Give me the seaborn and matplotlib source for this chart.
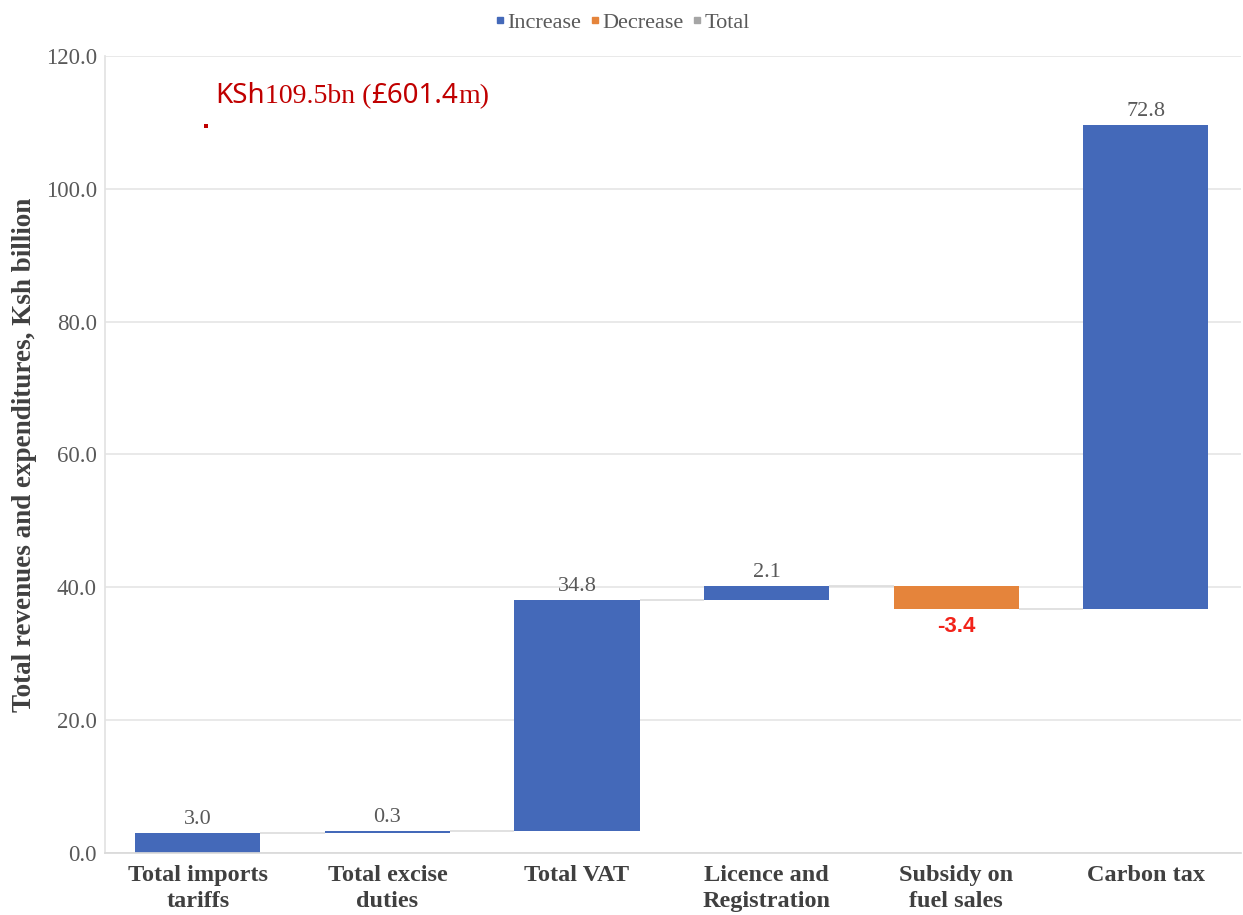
import numpy as np
import pandas as pd
import matplotlib
matplotlib.use("Agg")
import matplotlib.pyplot as plt
from matplotlib.lines import Line2D
from matplotlib.offsetbox import TextArea, HPacker, AnnotationBbox
import seaborn as sns

# Waterfall components (Ksh billion)
categories = ["Total imports\ntariffs", "Total excise\nduties", "Total VAT",
              "Licence and\nRegistration", "Subsidy on\nfuel sales", "Carbon tax"]
changes = [3.0, 0.3, 34.8, 2.1, -3.4, 72.8]
value_labels = ["3.0", "0.3", "34.8", "2.1", "-3.4", "72.8"]
total_value = 109.5
total_label_gbp = "601.4"
legend_names = ["Increase", "Decrease", "Total"]
yticks = [0, 20, 40, 60, 80, 100, 120]

BLUE = "#4469B9"
ORANGE = "#E5843B"
GREY = "#A5A5A5"
TEXT = "#595959"
SERIF = "Liberation Serif"

sns.set_theme(style="white")
plt.rcParams["font.family"] = [SERIF, "DejaVu Serif"]

ends = np.cumsum(changes)
starts = ends - np.array(changes)
df = pd.DataFrame({"category": categories, "size": np.abs(changes)})
colors = [BLUE if c >= 0 else ORANGE for c in changes]

fig = plt.figure(figsize=(12.43, 9.15), dpi=100)
ax = fig.add_axes([0.0845, 0.0678, 0.9135, 0.871])

width = 0.66
sns.barplot(data=df, x="category", y="size", hue="category", palette=colors,
            dodge=False, legend=False, width=width, saturation=1, ax=ax)

# Lift each bar so it floats from the running total
for i, patch in enumerate(ax.patches[:len(changes)]):
    patch.set_y(min(starts[i], ends[i]))
    patch.set_edgecolor("none")

# Connector lines between consecutive bars
for i in range(len(changes) - 1):
    ax.hlines(ends[i], i + width / 2, i + 1 - width / 2, color="#dcdcdc", lw=1.2, zorder=1)

# Value labels
for i, (c, lab) in enumerate(zip(changes, value_labels)):
    if c >= 0:
        ax.text(i, ends[i] + 0.6, lab, ha="center", va="bottom", fontsize=16,
                color=TEXT, family=SERIF)
    else:
        ax.text(i, ends[i] - 1.1, lab, ha="center", va="top", fontsize=16,
                color="#F2231A", fontweight="bold", family=["Liberation Sans Narrow", "Liberation Sans"])

# Total marker and annotation
RED = "#C00000"
ax.scatter([0.04], [total_value], marker="s", s=12, color=RED, linewidths=0, zorder=5)
parts = [
    ("KSh", ["Noto Sans", "DejaVu Sans"]),
    ("%.1fbn (" % total_value, [SERIF]),
    ("£" + total_label_gbp, ["Noto Sans", "DejaVu Sans"]),
    ("m)", [SERIF]),
]
boxes = [TextArea(t, textprops=dict(color=RED, fontsize=20, family=f)) for t, f in parts]
pack = HPacker(children=boxes, align="baseline", pad=0, sep=0)
ab = AnnotationBbox(pack, (0.04, total_value), xybox=(7, 11), xycoords="data",
                    boxcoords="offset points", box_alignment=(0, 0), frameon=False)
ax.add_artist(ab)

# Axes styling
ax.set_ylim(0, 120)
ax.set_xlim(-0.49, 5.5)
ax.set_yticks(yticks)
ax.set_yticklabels(["%.1f" % v for v in yticks], fontsize=16.5, color=TEXT)
ax.set_xticks(range(len(categories)))
ax.set_xticklabels(categories, fontsize=17.5, fontweight="bold", color="#404040",
                   linespacing=1.3)
ax.tick_params(axis="y", length=0, pad=6)
ax.tick_params(axis="x", length=0, pad=9)
ax.set_xlabel("")
ax.set_ylabel("Total revenues and expenditures, Ksh billion", fontsize=19.5,
              fontweight="bold", color="#404040", labelpad=6)
ax.grid(axis="y", color="#e3e3e3", lw=1.1)
ax.set_axisbelow(True)
for side in ["top", "right"]:
    ax.spines[side].set_visible(False)
ax.spines["left"].set_color("#e3e3e3")
ax.spines["bottom"].set_color("#d9d9d9")

handles = [Line2D([], [], marker="s", ls="none", markersize=4, color=c)
           for c in [BLUE, ORANGE, GREY]]
fig.legend(handles, legend_names, loc="upper center", bbox_to_anchor=(0.5, 1.008),
           ncol=3, frameon=False, fontsize=16, handletextpad=0.05, columnspacing=0.3,
           labelcolor=TEXT, handlelength=0.6)

fig.savefig("out.png", dpi=100)
